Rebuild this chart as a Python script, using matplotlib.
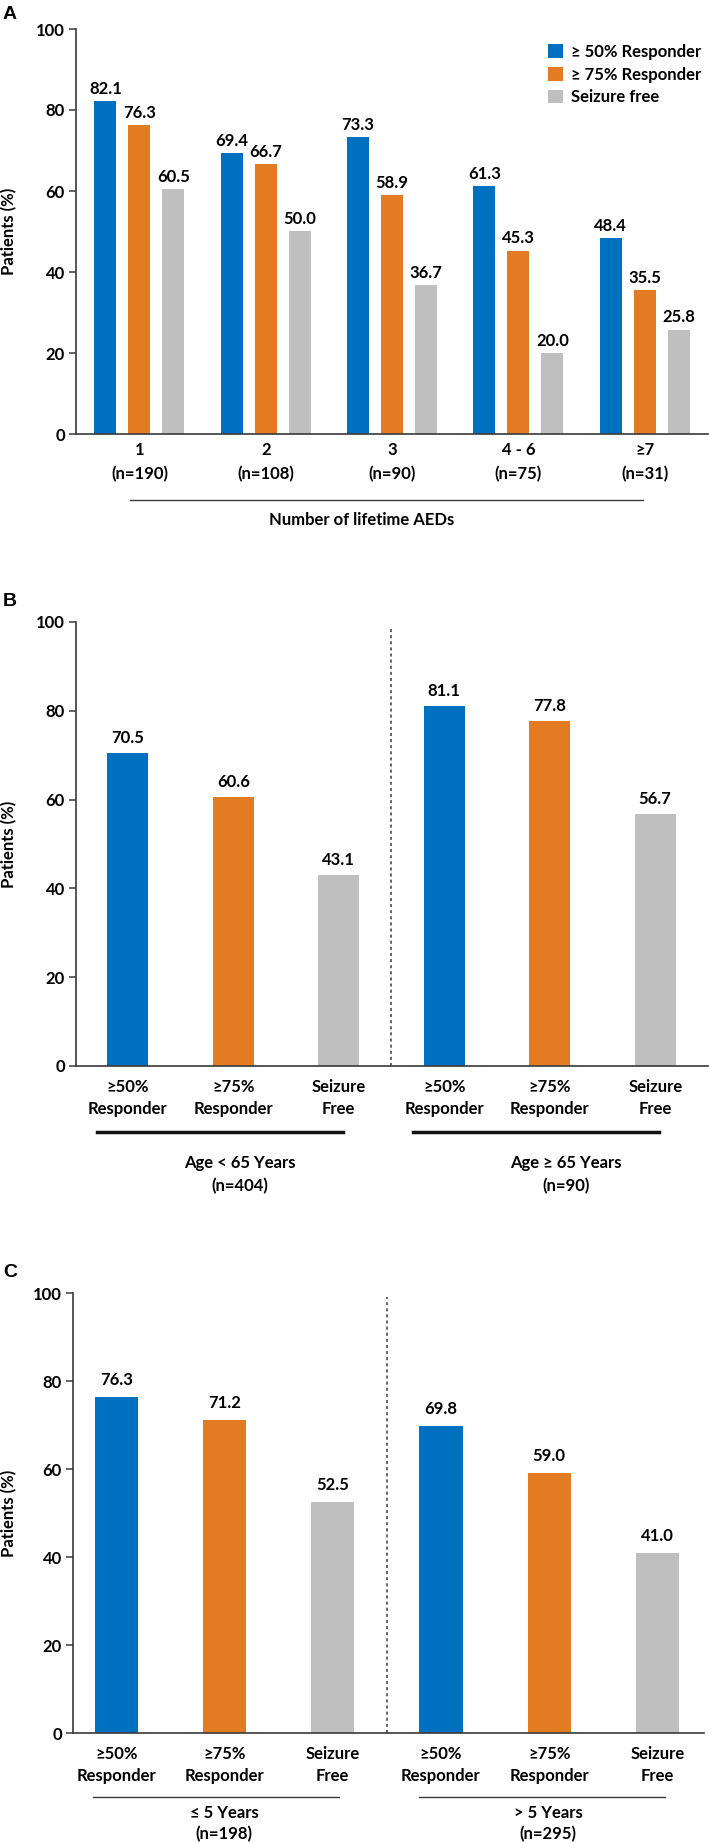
import numpy as np
import matplotlib
matplotlib.use('Agg')
import matplotlib.pyplot as plt
from matplotlib.lines import Line2D

plt.rcParams['font.family'] = ['Lato', 'DejaVu Sans']
plt.rcParams['font.weight'] = 'bold'

# Dados - painel A (número de AEDs ao longo da vida)
aed_groups = ['1', '2', '3', '4 - 6', '≥7']
aed_n = [190, 108, 90, 75, 31]
aed_50 = [82.1, 69.4, 73.3, 61.3, 48.4]
aed_75 = [76.3, 66.7, 58.9, 45.3, 35.5]
aed_sf = [60.5, 50.0, 36.7, 20.0, 25.8]

# Dados - painéis B e C
outcome_labels = ['≥50%\nResponder', '≥75%\nResponder', 'Seizure\nFree']
age_groups = ['Age < 65 Years', 'Age ≥ 65 Years']
age_n = [404, 90]
age_vals = [[70.5, 60.6, 43.1], [81.1, 77.8, 56.7]]
dur_groups = ['≤ 5 Years', '> 5 Years']
dur_n = [198, 295]
dur_vals = [[76.3, 71.2, 52.5], [69.8, 59.0, 41.0]]

legend_labels = ['≥ 50% Responder', '≥ 75% Responder', 'Seizure free']
cores = ['#0070C0', '#E27B22', '#BFBFBF']
cor_eixo = '#3a3a3a'
fs = 12

W, H = 709, 1844
def fx(x):
    return x / W
def fy(y):
    return 1 - y / H

fig = plt.figure(figsize=(W / 100, H / 100), dpi=100)


def estilo_eixo(ax, xlim):
    ax.set_ylim(0, 100)
    ax.set_xlim(*xlim)
    ax.set_yticks([0, 20, 40, 60, 80, 100])
    for s in ['top', 'right']:
        ax.spines[s].set_visible(False)
    for s in ['left', 'bottom']:
        ax.spines[s].set_color(cor_eixo)
        ax.spines[s].set_linewidth(1.2)
    ax.tick_params(axis='y', length=5, width=1.1, color=cor_eixo, pad=3, labelsize=fs)
    ax.tick_params(axis='x', length=0, labelsize=fs)


def rotulo_valor(ax, x, v, dy):
    ax.annotate(f'{v:.1f}', (x, v), xytext=(0, dy), textcoords='offset points',
                ha='center', va='bottom', fontsize=fs, fontweight='bold')


# ---------------- Painel A ----------------
axA = fig.add_axes([fx(76), fy(434), (708 - 76) / W, (434 - 29) / H])
x = np.arange(len(aed_groups))
bw = 0.174
off = 0.269
series = [aed_50, aed_75, aed_sf]
for i, vals in enumerate(series):
    axA.bar(x + (i - 1) * off, vals, bw, color=cores[i], label=legend_labels[i])
    for xi, v in zip(x + (i - 1) * off, vals):
        rotulo_valor(axA, xi, v, 3)
estilo_eixo(axA, (-0.502, 4.5))
axA.set_xticks(x)
axA.set_xticklabels([f'{g}\n(n={n})' for g, n in zip(aed_groups, aed_n)], linespacing=1.6)
axA.tick_params(axis='x', pad=6)
axA.legend(loc='upper left', bbox_to_anchor=(fx(548), fy(44)), bbox_transform=fig.transFigure,
           frameon=False, fontsize=fs, handlelength=0.9, handleheight=0.9,
           handletextpad=0.5, labelspacing=0.4, borderpad=0, borderaxespad=0)
fig.add_artist(Line2D([fx(130), fx(643)], [fy(500), fy(500)], color=cor_eixo, lw=1))
fig.text(fx(362), fy(520), 'Number of lifetime AEDs', ha='center', va='center', fontsize=fs)

# ---------------- Painel B ----------------
axB = fig.add_axes([fx(76), fy(1066), (708 - 76) / W, (1066 - 622) / H])
vals_b = age_vals[0] + age_vals[1]
xb = np.arange(6)
axB.bar(xb, vals_b, 0.39, color=cores * 2)
for xi, v in zip(xb, vals_b):
    rotulo_valor(axB, xi, v, 5)
estilo_eixo(axB, (-0.49, 5.5))
axB.axvline(2.5, ymin=0, ymax=0.99, color=cor_eixo, lw=1.1, ls=(0, (2, 2)))
axB.set_xticks(xb)
axB.set_xticklabels(outcome_labels * 2, linespacing=1.5)
axB.tick_params(axis='x', pad=9)
for (x0, x1, xc), g, n in zip([(97, 343, 240), (413, 659, 566)], age_groups, age_n):
    fig.add_artist(Line2D([fx(x0), fx(x1)], [fy(1132), fy(1132)], color='#111111', lw=2.5))
    fig.text(fx(xc), fy(1163), g, ha='center', va='center', fontsize=fs)
    fig.text(fx(xc), fy(1186), f'(n={n})', ha='center', va='center', fontsize=fs)

# ---------------- Painel C ----------------
axC = fig.add_axes([fx(73), fy(1733), (704 - 73) / W, (1733 - 1293) / H])
vals_c = dur_vals[0] + dur_vals[1]
axC.bar(xb, vals_c, 0.40, color=cores * 2)
for xi, v in zip(xb, vals_c):
    rotulo_valor(axC, xi, v, 6.5)
estilo_eixo(axC, (-0.40, 5.43))
axC.axvline(2.5, ymin=0, ymax=0.99, color=cor_eixo, lw=1.1, ls=(0, (2, 2)))
axC.set_xticks(xb)
axC.set_xticklabels(outcome_labels * 2, linespacing=1.5)
axC.tick_params(axis='x', pad=9)
for (x0, x1, xc), g, n in zip([(93, 339, 224), (419, 665, 548)], dur_groups, dur_n):
    fig.add_artist(Line2D([fx(x0), fx(x1)], [fy(1797), fy(1797)], color=cor_eixo, lw=1))
    fig.text(fx(xc), fy(1813), g, ha='center', va='center', fontsize=fs)
    fig.text(fx(xc), fy(1834), f'(n={n})', ha='center', va='center', fontsize=fs)

# rótulos dos painéis e eixos y
for letra, ytop, (ya, yb) in [('A', 6, (29, 434)), ('B', 593, (622, 1066)), ('C', 1264, (1293, 1733))]:
    fig.text(fx(3), fy(ytop), letra, ha='left', va='top', fontsize=14,
             fontweight='bold', family='Liberation Sans')
    fig.text(fx(9), fy((ya + yb) / 2), 'Patients (%)', rotation=90, ha='center',
             va='center', fontsize=fs)

fig.savefig('out.png', dpi=100)
